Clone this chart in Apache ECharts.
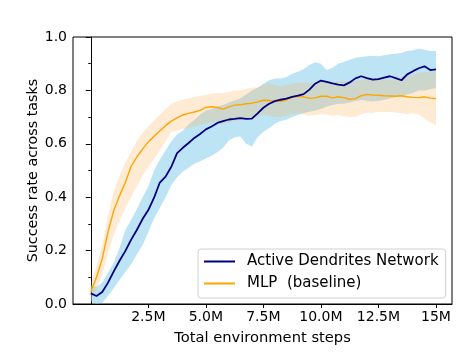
<!DOCTYPE html>
<html>
<head>
<meta charset="utf-8">
<script src="https://cdn.jsdelivr.net/npm/echarts@6/dist/echarts.min.js"></script>
<style>html,body{margin:0;padding:0;background:#fff;}#c{width:473px;height:356px;}</style>
</head>
<body>
<div id="c"></div>
<script>
// x values: total environment steps, in millions
const steps = [0,0.25,0.5,0.75,1,1.25,1.5,1.75,2,2.25,2.5,2.75,3,3.25,3.5,3.75,4,4.25,4.5,4.75,5,5.25,5.5,5.75,6,6.25,6.5,6.75,7,7.25,7.5,7.75,8,8.25,8.5,8.75,9,9.25,9.5,9.75,10,10.25,10.5,10.75,11,11.25,11.5,11.75,12,12.25,12.5,12.75,13,13.25,13.5,13.75,14,14.25,14.5,14.75,15];

const dendMean = [0.040,0.030,0.045,0.080,0.122,0.162,0.198,0.240,0.277,0.318,0.352,0.398,0.455,0.477,0.514,0.565,0.585,0.603,0.622,0.637,0.654,0.665,0.678,0.685,0.691,0.693,0.696,0.693,0.694,0.714,0.735,0.750,0.760,0.765,0.769,0.776,0.780,0.786,0.803,0.825,0.837,0.832,0.826,0.822,0.819,0.830,0.845,0.853,0.846,0.840,0.842,0.848,0.853,0.846,0.838,0.860,0.872,0.883,0.890,0.876,0.879];
const dendUpper = [0.07,0.065,0.08,0.118,0.155,0.21,0.277,0.315,0.355,0.40,0.44,0.50,0.54,0.575,0.61,0.635,0.65,0.672,0.69,0.71,0.725,0.73,0.74,0.745,0.755,0.762,0.77,0.785,0.80,0.81,0.825,0.838,0.845,0.845,0.85,0.862,0.87,0.88,0.895,0.905,0.90,0.876,0.885,0.90,0.906,0.915,0.922,0.925,0.928,0.93,0.928,0.932,0.935,0.937,0.94,0.948,0.95,0.956,0.952,0.948,0.948];
const dendLower = [0.01,0.00,0.005,0.03,0.06,0.09,0.12,0.148,0.185,0.22,0.27,0.32,0.36,0.40,0.445,0.475,0.495,0.51,0.525,0.535,0.545,0.555,0.568,0.585,0.612,0.625,0.627,0.60,0.59,0.625,0.645,0.658,0.675,0.685,0.69,0.70,0.708,0.715,0.72,0.725,0.73,0.74,0.745,0.75,0.75,0.755,0.76,0.765,0.76,0.758,0.76,0.765,0.77,0.775,0.78,0.785,0.79,0.80,0.80,0.805,0.808];

const mlpMean = [0.046,0.10,0.17,0.27,0.35,0.405,0.455,0.515,0.55,0.58,0.607,0.628,0.648,0.668,0.685,0.697,0.708,0.714,0.719,0.725,0.736,0.739,0.736,0.730,0.738,0.745,0.746,0.750,0.752,0.757,0.763,0.762,0.760,0.758,0.765,0.775,0.778,0.776,0.770,0.772,0.778,0.778,0.772,0.776,0.773,0.767,0.769,0.780,0.785,0.783,0.782,0.780,0.779,0.778,0.780,0.776,0.774,0.773,0.776,0.771,0.769];
const mlpUpper = [0.08,0.14,0.22,0.33,0.42,0.48,0.53,0.57,0.61,0.64,0.665,0.685,0.71,0.73,0.75,0.758,0.765,0.77,0.775,0.78,0.783,0.787,0.79,0.79,0.795,0.80,0.80,0.805,0.81,0.812,0.82,0.826,0.82,0.815,0.82,0.825,0.83,0.83,0.828,0.83,0.835,0.835,0.83,0.835,0.835,0.83,0.835,0.84,0.845,0.845,0.842,0.84,0.84,0.845,0.85,0.855,0.86,0.865,0.868,0.87,0.87];
const mlpLower = [0.01,0.055,0.11,0.19,0.26,0.31,0.36,0.40,0.44,0.48,0.515,0.545,0.575,0.61,0.645,0.65,0.655,0.66,0.665,0.67,0.677,0.682,0.68,0.675,0.68,0.685,0.69,0.695,0.695,0.70,0.71,0.705,0.70,0.70,0.705,0.712,0.715,0.71,0.705,0.708,0.712,0.71,0.705,0.708,0.703,0.70,0.70,0.71,0.716,0.715,0.72,0.718,0.72,0.716,0.715,0.712,0.714,0.71,0.695,0.68,0.67];

const xTickValues = [2.5,5,7.5,10,12.5,15];
const xTickLabels = ['2.5M','5.0M','7.5M','10.0M','12.5M','15M'];
const yTickLabels = ['0.0','0.2','0.4','0.6','0.8','1.0'];

const pairs = (ys) => steps.map((x,i)=>[x, ys[i]]);

const FONT = 'DejaVu Sans';
const chart = echarts.init(document.getElementById('c'), null, {renderer:'canvas'});

function band(name, lo, hi, color, z) {
  return {
    type:'custom', name:name, silent:true, z:z, clip:true,
    data: steps.map((x,i)=>[x, lo[i], hi[i]]),
    encode:{x:0, y:[1,2]},
    renderItem:(params, api)=>{
      if (params.dataIndex !== 0) return null;
      const pts = [];
      for (let i=0;i<steps.length;i++) pts.push(api.coord([steps[i], hi[i]]));
      for (let i=steps.length-1;i>=0;i--) pts.push(api.coord([steps[i], lo[i]]));
      return {type:'polygon', shape:{points:pts}, style:{fill:color, stroke:null}};
    }
  };
}

chart.setOption({
  animation:false,
  backgroundColor:'#fff',
  textStyle:{fontFamily:FONT},
  grid:{left:73, right:21, top:37, bottom:52, show:true, borderColor:'#000', borderWidth:1, backgroundColor:'transparent'},
  legend:{
    orient:'vertical', left:198, top:249,
    data:['Active Dendrites Network','MLP  (baseline)'],
    icon:'rect', itemWidth:31, itemHeight:2, itemGap:5,
    padding:[4,7,6,6],
    borderColor:'#d0d0d0', borderWidth:1, borderRadius:3,
    backgroundColor:'rgba(255,255,255,0.8)',
    textStyle:{fontFamily:FONT, fontSize:15, color:'#000', padding:[0,0,0,7], lineHeight:17}
  },
  xAxis:{
    type:'value', min:-0.772, max:15.695,
    name:'Total environment steps', nameLocation:'middle', nameGap:27, nameMoveOverlap:false,
    nameTextStyle:{fontFamily:FONT, fontSize:14.7, color:'#000'},
    axisLine:{show:true, onZero:false, lineStyle:{color:'#000', width:1}},
    axisTick:{show:true, customValues:xTickValues, length:4, lineStyle:{color:'#000'}},
    axisLabel:{show:true, customValues:xTickValues, margin:6, fontFamily:FONT, fontSize:14, color:'#000',
      formatter:(v)=>{const i=xTickValues.indexOf(v); return i>=0?xTickLabels[i]:'';}},
    splitLine:{show:false}
  },
  yAxis:{
    type:'value', min:0, max:1, interval:0.2,
    name:'Success rate across tasks', nameLocation:'middle', nameGap:33, nameMoveOverlap:false,
    nameTextStyle:{fontFamily:FONT, fontSize:14.3, color:'#000'},
    axisLine:{show:true, lineStyle:{color:'#000', width:1}},
    axisTick:{show:true, length:5, lineStyle:{color:'#000'}},
    minorTick:{show:true, splitNumber:2, length:2.5, lineStyle:{color:'#000'}},
    axisLabel:{margin:6, fontFamily:FONT, fontSize:14, color:'#000',
      formatter:(v)=>yTickLabels[Math.round(v/0.2)]},
    splitLine:{show:false}
  },
  series:[
    band('dendBand', dendLower, dendUpper, 'rgba(135,206,235,0.55)', 1),
    band('mlpBand', mlpLower, mlpUpper, 'rgba(255,170,80,0.25)', 2),
    {type:'line', name:'MLP  (baseline)', data:pairs(mlpMean), symbol:'none', color:'#FFA500', lineStyle:{color:'#FFA500', width:1.4}, z:3},
    {type:'line', name:'Active Dendrites Network', data:pairs(dendMean), symbol:'none', color:'#000080', lineStyle:{color:'#000080', width:1.8}, z:4}
  ]
});
</script>
</body>
</html>
